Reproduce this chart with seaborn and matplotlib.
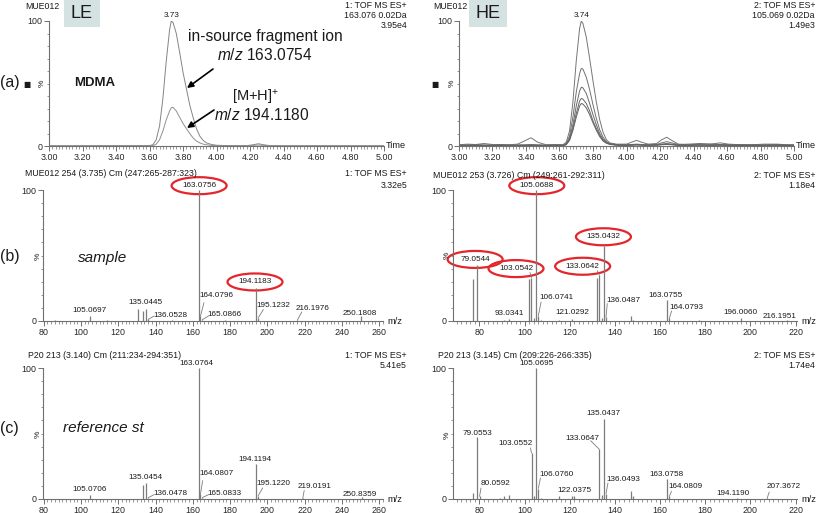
"""
MDMA LE/HE chromatograms and spectra (MassLynx style), redrawn with seaborn.
"""

import numpy as np
import pandas as pd
import matplotlib
matplotlib.use("Agg")
import matplotlib.pyplot as plt
from matplotlib.patches import Ellipse, Rectangle
from matplotlib.ticker import MultipleLocator, FixedLocator
import seaborn as sns


# ---------------------------------------------------------------------------
# Data
# ---------------------------------------------------------------------------

# (a) left: LE extracted-ion chromatograms (% of max)
le_time = [3.00, 3.20, 3.40, 3.55, 3.60, 3.62, 3.64, 3.66, 3.68, 3.70, 3.72, 3.73,
           3.74, 3.76, 3.78, 3.80, 3.82, 3.84, 3.86, 3.88, 3.90, 3.92, 3.94, 3.97,
           4.00, 4.05, 4.10, 4.18, 4.22, 4.25, 4.28, 4.32, 4.40, 4.60, 4.80, 5.00]
le_163 = [0.2, 0.2, 0.3, 0.3, 0.4, 1.0, 5.0, 16, 38, 68, 93, 100,
          99, 90, 75, 59, 46, 33, 23, 14, 8.0, 4.5, 2.5, 1.2,
          0.6, 0.4, 0.3, 0.3, 1.0, 1.8, 1.0, 0.3, 0.2, 0.2, 0.2, 0.2]
le_194 = [0.1, 0.1, 0.1, 0.1, 0.2, 0.3, 1.5, 5.0, 12, 21, 28, 30.5,
          31, 28, 23, 18, 14, 10, 6.5, 4.0, 2.5, 1.5, 1.0, 0.5,
          0.3, 0.2, 0.2, 0.2, 0.5, 0.8, 0.5, 0.2, 0.1, 0.1, 0.1, 0.1]

# (a) right: HE extracted-ion chromatograms
he_time = [3.00, 3.05, 3.10, 3.15, 3.20, 3.25, 3.30, 3.35, 3.39, 3.43, 3.47, 3.52,
           3.58, 3.62, 3.64, 3.66, 3.68, 3.70, 3.72, 3.73, 3.74, 3.76, 3.78, 3.80,
           3.82, 3.84, 3.86, 3.88, 3.90, 3.94, 4.00, 4.03, 4.06, 4.09, 4.13, 4.18,
           4.21, 4.24, 4.27, 4.31, 4.37, 4.44, 4.50, 4.56, 4.61, 4.68, 4.75, 4.82,
           4.90, 4.95, 5.00]
he_1 = [1.0, 1.5, 1.2, 2.0, 1.2, 1.0, 1.0, 1.5, 4.0, 6.6, 3.0, 1.0, 1.2, 1.0,
        3.0, 12, 35, 68, 94, 100, 98, 87, 70, 52, 35, 21, 11, 5.0, 2.5,
        1.5, 1.5, 3.0, 4.5, 3.0, 1.5, 2.0, 5.0, 7.0, 4.5, 1.5, 1.0, 1.5, 1.5,
        2.5, 1.5, 1.0, 1.0, 1.5, 1.5, 1.0, 1.0]
he_2 = [0.8, 1.0, 1.2, 0.8, 1.0, 1.2, 0.8, 1.0, 1.0, 1.2, 1.0, 0.8, 1.0, 0.8,
        2.0, 8.0, 23, 43, 58, 62, 61.5, 55, 45, 33, 22, 13, 7.0, 3.5, 2.0,
        1.2, 1.0, 1.2, 1.5, 1.2, 1.0, 1.2, 2.5, 3.5, 2.5, 1.2, 1.5, 2.0, 1.5,
        1.2, 1.0, 1.2, 0.8, 1.0, 1.2, 1.0, 0.8]
he_3 = [0.5, 0.6, 0.8, 0.6, 0.5, 0.7, 0.6, 0.5, 0.6, 0.8, 0.6, 0.5, 0.6, 0.6,
        1.5, 6.0, 17, 32, 44, 47, 46.5, 42, 34, 25, 17, 10, 5.5, 3.0, 1.8,
        1.0, 0.8, 1.0, 1.2, 1.0, 0.8, 1.0, 1.5, 2.0, 1.5, 0.8, 0.8, 1.0, 0.8,
        1.0, 0.8, 0.6, 0.8, 0.6, 0.8, 0.6, 0.5]
he_4 = [0.3, 0.4, 0.5, 0.4, 0.3, 0.5, 0.4, 0.3, 0.4, 0.5, 0.4, 0.3, 0.4, 0.4,
        1.2, 5.0, 14, 26, 36, 38, 37.5, 34, 28, 20, 14, 8.5, 4.5, 2.5, 1.5,
        0.8, 0.6, 0.8, 1.0, 0.8, 0.6, 0.8, 1.2, 1.5, 1.2, 0.6, 0.6, 0.8, 0.6,
        0.8, 0.6, 0.5, 0.6, 0.5, 0.6, 0.5, 0.4]
he_5 = [0.2, 0.3, 0.3, 0.2, 0.3, 0.2, 0.3, 0.2, 0.3, 0.3, 0.2, 0.2, 0.3, 0.3,
        1.0, 4.5, 12.5, 23, 32, 34, 33.5, 30.5, 25, 18.5, 12.5, 7.5, 4.0, 2.2, 1.3,
        0.6, 0.5, 0.6, 0.8, 0.6, 0.5, 0.6, 1.0, 1.2, 1.0, 0.5, 0.5, 0.6, 0.5,
        0.6, 0.5, 0.4, 0.5, 0.4, 0.5, 0.4, 0.3]

# (b) left: LE spectrum, sample
b_le_mz = [86.06, 105.0697, 114.09, 130.65, 133.0642, 135.0445, 136.0528, 149.06,
           163.0756, 164.0796, 165.0866, 177.09, 194.1183, 195.1232, 216.1976, 250.1808]
b_le_int = [0.4, 3.8, 0.6, 9.0, 7.5, 9.2, 1.2, 0.5,
            100, 3.5, 1.0, 0.4, 25.5, 2.5, 0.8, 3.5]

# (b) right: HE spectrum, sample
b_he_mz = [77.0386, 79.0544, 91.0542, 93.0341, 102.0464, 103.0542, 104.0495, 105.0688,
           106.0741, 107.0491, 115.0542, 121.0292, 132.0570, 133.0642, 134.0600, 135.0432,
           136.0487, 147.0441, 148.0520, 163.0755, 164.0793, 177.0600, 196.0060, 216.1951]
b_he_int = [32, 43, 1.0, 1.2, 32, 33, 2.0, 100,
            4.0, 1.0, 0.8, 1.2, 33, 35, 2.0, 57,
            3.0, 4.0, 1.0, 16, 2.0, 0.5, 2.5, 0.8]

# (c) left: LE spectrum, reference standard
c_le_mz = [105.0706, 133.0650, 135.0454, 136.0478, 163.0764, 164.0807, 165.0833,
           194.1194, 195.1220, 219.0191, 250.8359]
c_le_int = [3.3, 11, 12.5, 1.0, 100, 3.5, 1.0, 27, 2.5, 0.5, 1.5]

# (c) right: HE spectrum, reference standard
c_he_mz = [77.0386, 79.0553, 80.0592, 89.0400, 91.0542, 93.0700, 103.0552, 104.0495,
           105.0695, 106.0760, 107.0491, 115.0542, 121.0648, 122.0375, 133.0647, 134.0600,
           135.0437, 136.0493, 147.0441, 148.0520, 163.0758, 164.0809, 194.1190, 207.3672]
c_he_int = [4.6, 47, 2.0, 1.0, 2.0, 3.2, 35, 2.5,
            100, 8.0, 1.0, 2.0, 2.0, 2.0, 38, 3.0,
            61, 4.0, 6.0, 2.5, 15, 2.0, 0.5, 0.5]

# circled peak labels
b_le_circled = ["163.0756", "194.1183"]
b_he_circled = ["105.0688", "79.0544", "103.0542", "133.0642", "135.0432"]


# ---------------------------------------------------------------------------
# Layout (pixels of an 817x513 canvas) and label placement (data coords)
# ---------------------------------------------------------------------------

W, H = 817, 513
GREY = "#7c7c7c"
AXIS = "#6f6f6f"
RED = "#e3262b"
TICK_FS = 6.4
LAB_FS = 5.9
HEAD_FS = 6.3

# label text -> (x, y, leader end or None)
b_le_labels = {
    "105.0697": (104.8, 8.2, None), "135.0445": (134.7, 14.0, None),
    "136.0528": (148.1, 4.3, (139.2, 3.8)), "163.0756": (163.4, 103.3, None),
    "164.0796": (172.8, 19.6, (166.0, 14.0)), "165.0866": (176.8, 5.1, (168.4, 3.8)),
    "194.1183": (193.4, 29.8, None), "195.1232": (203.3, 12.0, (197.9, 8.7)),
    "216.1976": (224.4, 9.2, (218.5, 6.9)), "250.1808": (249.5, 5.6, None),
}
b_he_labels = {
    "79.0544": (78.1, 47.0, None), "93.0341": (93.1, 5.6, None),
    "103.0542": (96.2, 40.0, (102.4, 37.0)), "105.0688": (105.4, 103.3, None),
    "106.0741": (114.2, 17.9, (107.3, 14.5)), "121.0292": (121.2, 6.4, None),
    "133.0642": (125.7, 41.8, (132.2, 38.5)), "135.0432": (134.9, 64.3, None),
    "136.0487": (143.7, 15.8, (136.6, 13.3)), "163.0755": (162.6, 19.6, None),
    "164.0793": (171.5, 10.0, (165.1, 7.7)), "196.0060": (195.4, 6.4, None),
    "216.1951": (213.1, 3.8, None),
}
c_le_labels = {
    "105.0706": (104.8, 7.6, None), "135.0454": (134.7, 16.5, None),
    "136.0478": (148.1, 4.0, (139.2, 3.3)), "163.0764": (162.1, 103.3, None),
    "164.0807": (172.8, 19.8, (165.3, 14.0)), "165.0833": (176.8, 4.0, (168.4, 3.3)),
    "194.1194": (193.4, 30.0, None), "195.1220": (203.3, 11.7, (197.5, 8.4)),
    "219.0191": (225.6, 9.7, (219.8, 6.5)), "250.8359": (249.8, 3.6, None),
}
c_he_labels = {
    "79.0553": (79.3, 49.9, None), "80.0592": (87.1, 11.7, (80.7, 8.4)),
    "103.0552": (96.0, 42.2, (102.6, 39.0)), "105.0695": (105.1, 103.3, None),
    "106.0760": (114.0, 19.0, (107.0, 16.0)), "122.0375": (122.1, 6.4, None),
    "133.0647": (125.8, 46.0, (129.2, 44.5)), "135.0437": (135.0, 65.0, None),
    "136.0493": (143.6, 14.8, (136.9, 12.2)), "163.0758": (162.8, 18.6, None),
    "164.0809": (171.4, 9.7, (165.0, 5.9)), "194.1190": (192.1, 4.0, None),
    "207.3672": (214.5, 9.2, (208.3, 5.3)),
}


def set_style() -> None:
    sns.set_theme(style="white")
    plt.rcParams["font.family"] = ["Liberation Sans", "DejaVu Sans"]
    plt.rcParams["mathtext.fontset"] = "custom"
    plt.rcParams["mathtext.rm"] = "Liberation Sans"
    plt.rcParams["mathtext.it"] = "Liberation Sans:italic"
    plt.rcParams["text.color"] = "#1a1a1a"


def fx(x):
    return x / W


def fy(y):
    return 1 - y / H


def add_px_axes(fig, left, top, right, bottom):
    return fig.add_axes([left / W, 1 - bottom / H, (right - left) / W, (bottom - top) / H])


def ftext(fig, x, y, s, **kw):
    kw.setdefault("fontsize", HEAD_FS)
    fig.text(fx(x), fy(y), s, **kw)


def style_axes(ax, xlim, xmaj, xmin, xfmt):
    ax.set_xlim(*xlim)
    ax.set_ylim(0, 100)
    ax.patch.set_alpha(0)
    for s in ("top", "right"):
        ax.spines[s].set_visible(False)
    for s in ("left", "bottom"):
        ax.spines[s].set_color(AXIS)
        ax.spines[s].set_linewidth(0.8)
    ax.yaxis.set_major_locator(FixedLocator([0, 100]))
    ax.yaxis.set_minor_locator(MultipleLocator(10))
    ax.xaxis.set_major_locator(MultipleLocator(xmaj))
    ax.xaxis.set_minor_locator(MultipleLocator(xmin))
    ax.xaxis.set_major_formatter(xfmt)
    ax.tick_params(which="major", length=3.5, width=0.7, color=AXIS,
                   labelsize=TICK_FS, pad=1.2, left=True, bottom=True)
    ax.tick_params(which="minor", length=1.8, width=0.5, color=AXIS, left=True, bottom=True)
    ax.set_xlabel("")
    ax.set_ylabel("")


def draw_chrom(ax, time, traces, colors):
    frames = [pd.DataFrame({"time": time, "pct": vals, "trace": i})
              for i, vals in enumerate(traces)]
    df = pd.concat(frames, ignore_index=True)
    sns.lineplot(data=df, x="time", y="pct", hue="trace", palette=colors,
                 legend=False, ax=ax, linewidth=0.7, estimator=None)
    style_axes(ax, (3.0, 5.0), 0.2, 0.02, "{x:.2f}")
    ax.text(1.005, 0, "Time", transform=ax.transAxes, ha="left", va="center",
            fontsize=TICK_FS + 0.3)


def draw_spectrum(ax, mz, inten, labels, xlim, width_px, circled=()):
    ax.vlines(mz, 0, inten, color=GREY, lw=0.9)
    style_axes(ax, xlim, 20, 2, "{x:.0f}")
    ax.text(1.012, 0, "m/z", transform=ax.transAxes, ha="left", va="center",
            fontsize=TICK_FS + 0.3)
    mz_arr = np.asarray(mz)
    for txt, (lx, ly, lead) in labels.items():
        k = int(np.argmin(np.abs(mz_arr - float(txt))))
        ax.text(lx, ly, txt, ha="center", va="center", fontsize=LAB_FS)
        if lead is not None:
            ax.plot([mz[k], lead[0]], [inten[k], lead[1]], color=GREY, lw=0.6,
                    clip_on=False)
    units_per_px = (xlim[1] - xlim[0]) / width_px
    for txt in circled:
        lx, ly, _ = labels[txt]
        ax.add_patch(Ellipse((lx, ly), 55 * units_per_px, 17 / 131 * 100,
                             fill=False, ec=RED, lw=1.6, clip_on=False))


def main():
    set_style()
    fig = plt.figure(figsize=(W / 100, H / 100), dpi=100)

    # --- row (a): chromatograms ---
    ax_le = add_px_axes(fig, 49, 21, 384, 146)
    draw_chrom(ax_le, le_time, [le_163, le_194], ["#858585", "#909090"])
    ax_le.text(3.73, 101.5, "3.73", ha="center", va="bottom", fontsize=LAB_FS)

    ax_he = add_px_axes(fig, 459, 21, 794, 146)
    draw_chrom(ax_he, he_time, [he_1, he_2, he_3, he_4, he_5],
               ["#767676", "#707070", "#6a6a6a", "#666666", "#626262"])
    ax_he.text(3.73, 101.5, "3.74", ha="center", va="bottom", fontsize=LAB_FS)

    # --- row (b): sample spectra ---
    ax_bl = add_px_axes(fig, 43, 190, 383, 321)
    draw_spectrum(ax_bl, b_le_mz, b_le_int, b_le_labels, (79.6, 262.1), 340,
                  circled=b_le_circled)
    ax_br = add_px_axes(fig, 453, 190, 797, 321)
    draw_spectrum(ax_br, b_he_mz, b_he_int, b_he_labels, (68.3, 220.6), 344,
                  circled=b_he_circled)

    # --- row (c): reference standard spectra ---
    ax_cl = add_px_axes(fig, 43, 368, 383, 499)
    draw_spectrum(ax_cl, c_le_mz, c_le_int, c_le_labels, (79.6, 262.1), 340)
    ax_cr = add_px_axes(fig, 453, 368, 797, 499)
    draw_spectrum(ax_cr, c_he_mz, c_he_int, c_he_labels, (68.3, 220.6), 344)

    # --- headers ---
    ftext(fig, 25, 7, "MUE012", va="center")
    ftext(fig, 407, 6, "1: TOF MS ES+", ha="right", va="center")
    ftext(fig, 407, 16, "163.076 0.02Da", ha="right", va="center")
    ftext(fig, 407, 26, "3.95e4", ha="right", va="center")
    ftext(fig, 433, 7, "MUE012", va="center")
    ftext(fig, 815, 6, "2: TOF MS ES+", ha="right", va="center")
    ftext(fig, 815, 16, "105.069 0.02Da", ha="right", va="center")
    ftext(fig, 815, 26, "1.49e3", ha="right", va="center")

    ftext(fig, 25, 174, "MUE012 254 (3.735) Cm (247:265-287:323)", va="center")
    ftext(fig, 407, 174, "1: TOF MS ES+", ha="right", va="center")
    ftext(fig, 407, 185, "3.32e5", ha="right", va="center")
    ftext(fig, 433, 176, "MUE012 253 (3.726) Cm (249:261-292:311)", va="center")
    ftext(fig, 815, 176, "2: TOF MS ES+", ha="right", va="center")
    ftext(fig, 815, 185, "1.18e4", ha="right", va="center")

    ftext(fig, 28, 355, "P20 213 (3.140) Cm (211:234-294:351)", va="center")
    ftext(fig, 407, 355, "1: TOF MS ES+", ha="right", va="center")
    ftext(fig, 407, 365, "5.41e5", ha="right", va="center")
    ftext(fig, 438, 355, "P20 213 (3.145) Cm (209:226-266:335)", va="center")
    ftext(fig, 815, 355, "2: TOF MS ES+", ha="right", va="center")
    ftext(fig, 815, 365, "1.74e4", ha="right", va="center")

    # --- "%" axis labels ---
    for x, y in [(42, 83), (452, 83), (38, 256), (447, 255), (38, 434), (447, 435)]:
        ftext(fig, x, y, "%", rotation=90, ha="center", va="center", fontsize=6)

    # --- LE / HE boxes ---
    for (l, r), txt in [((64, 100), "LE"), ((469, 507), "HE")]:
        fig.add_artist(Rectangle((fx(l), fy(27)), (r - l) / W, 27 / H,
                                 transform=fig.transFigure, fc="#d5e2e2", ec="none"))
        ftext(fig, (l + r) / 2, 14, txt, ha="center", va="center", fontsize=13)

    # --- panel letters and annotations ---
    ftext(fig, 0, 83, "(a)", va="center", fontsize=11.5)
    ftext(fig, 0, 257, "(b)", va="center", fontsize=11.5)
    ftext(fig, 0, 428, "(c)", va="center", fontsize=11.5)
    for x in (27, 435):
        ftext(fig, x, 84, "\u25a0", ha="center", va="center", fontsize=5.5,
              family=["DejaVu Sans"])
    ftext(fig, 95, 83, "MDMA", ha="center", va="center", fontsize=9.5, weight="bold")
    ftext(fig, 103, 258, "sample", ha="center", va="center", fontsize=11, style="italic")
    ftext(fig, 103, 428, "reference st", ha="center", va="center", fontsize=11,
          style="italic")

    ftext(fig, 265, 37, "in-source fragment ion", ha="center", va="center", fontsize=11.2)
    ftext(fig, 265, 55, r"$m/z$ 163.0754", ha="center", va="center", fontsize=11.2)
    ftext(fig, 256, 97.5, r"[M+H]$^{+}$", ha="center", va="center", fontsize=10.5)
    ftext(fig, 262, 115, r"$m/z$ 194.1180", ha="center", va="center", fontsize=11.2)
    for (x0, y0), (x1, y1) in [((213, 69), (187, 88)), ((214, 110), (187, 128))]:
        ax_le.annotate("", xy=(fx(x1), fy(y1)), xytext=(fx(x0), fy(y0)),
                       xycoords="figure fraction", textcoords="figure fraction",
                       arrowprops=dict(arrowstyle="-|>", color="black", lw=1.2,
                                       mutation_scale=9, shrinkA=0, shrinkB=0))

    fig.savefig("out.png", dpi=100)
    plt.close(fig)


if __name__ == "__main__":
    main()
